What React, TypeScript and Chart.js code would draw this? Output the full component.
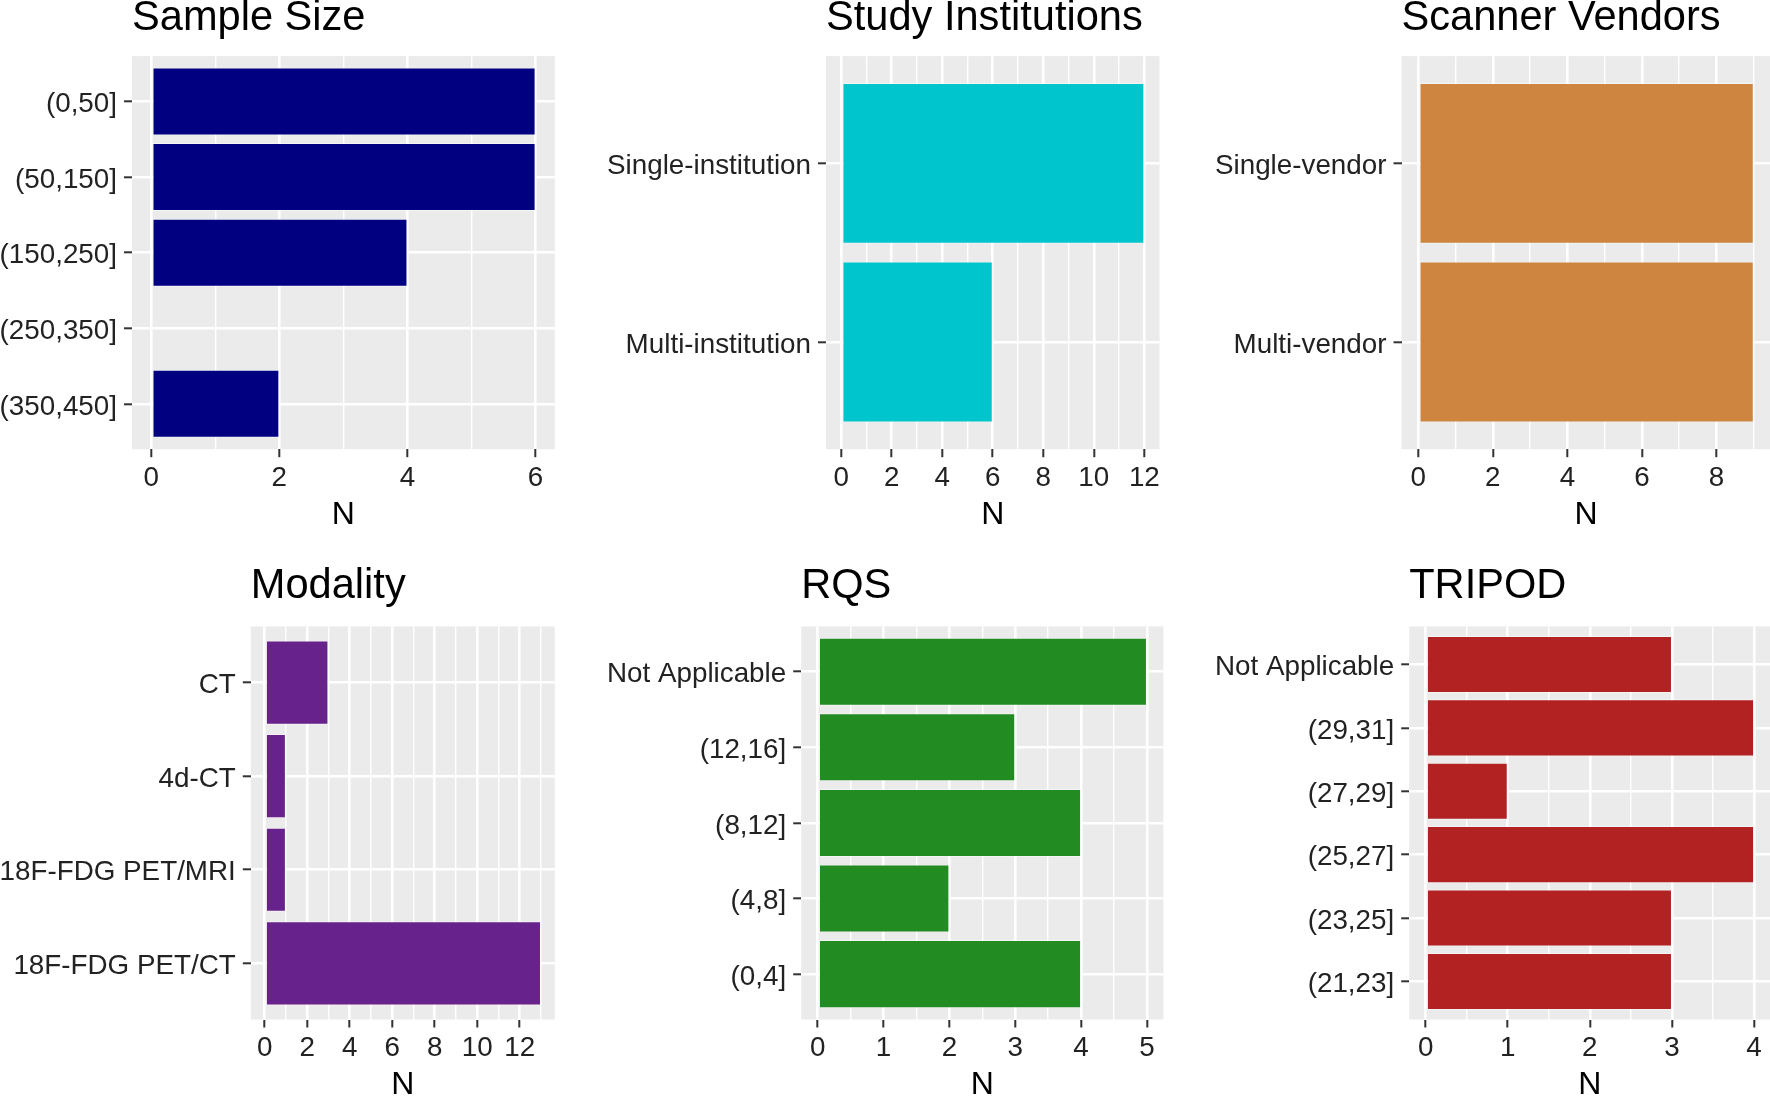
import React, { useEffect, useRef } from 'react';
import { Chart, registerables } from 'chart.js';

Chart.register(...registerables);

// ---------- data ----------
const sampleSizeLabels = ['(0,50]', '(50,150]', '(150,250]', '(250,350]', '(350,450]'];
const sampleSizeValues = [6, 6, 4, 0, 2];
const sampleSizeMajor = [0, 2, 4, 6];
const sampleSizeMinor = [1, 3, 5];

const institutionLabels = ['Single-institution', 'Multi-institution'];
const institutionValues = [12, 6];
const institutionMajor = [0, 2, 4, 6, 8, 10, 12];
const institutionMinor = [1, 3, 5, 7, 9, 11];

const vendorLabels = ['Single-vendor', 'Multi-vendor'];
const vendorValues = [9, 9];
const vendorMajor = [0, 2, 4, 6, 8];
const vendorMinor = [1, 3, 5, 7, 9];

const modalityLabels = ['CT', '4d-CT', '18F-FDG PET/MRI', '18F-FDG PET/CT'];
const modalityValues = [3, 1, 1, 13];
const modalityMajor = [0, 2, 4, 6, 8, 10, 12];
const modalityMinor = [1, 3, 5, 7, 9, 11, 13];

const rqsLabels = ['Not Applicable', '(12,16]', '(8,12]', '(4,8]', '(0,4]'];
const rqsValues = [5, 3, 4, 2, 4];
const rqsMajor = [0, 1, 2, 3, 4, 5];
const rqsMinor = [0.5, 1.5, 2.5, 3.5, 4.5];

const tripodLabels = ['Not Applicable', '(29,31]', '(27,29]', '(25,27]', '(23,25]', '(21,23]'];
const tripodValues = [3, 4, 1, 4, 3, 3];
const tripodMajor = [0, 1, 2, 3, 4];
const tripodMinor = [0.5, 1.5, 2.5, 3.5];

// ---------- layout / style ----------
const FONT = "'Liberation Sans', Arial, Helvetica, sans-serif";
const TITLE_SIZE = 41.6;
const TICK_SIZE = 27.8;
const AXIS_TITLE_SIZE = 32;

type Panel = {
  title: string;
  labels: string[];
  values: number[];
  major: number[];
  minor: number[];
  xMin: number;
  xMax: number;
  color: string;
  cl: number; ct: number; cw: number; ch: number;
  panelLeft: number; panelTop: number; panelRight: number; panelBottom: number;
  titleMid: number;
};

const TOP = { ct: -10, ch: 544, panelTop: 56.1, panelBottom: 449.2, titleMid: 18.6 };
const BOT = { ct: 555, ch: 549, panelTop: 626.4, panelBottom: 1019.5, titleMid: 587.0 };
const COL1 = { cl: 0, cw: 555, panelRight: 554.8 };
const COL2 = { cl: 585, cw: 579, panelRight: 1163.4 };
const COL3 = { cl: 1180, cw: 591, panelRight: 1770.5 };

const panels: Panel[] = [
  { title: 'Sample Size', labels: sampleSizeLabels, values: sampleSizeValues, major: sampleSizeMajor, minor: sampleSizeMinor,
    xMin: -0.3, xMax: 6.3, color: '#000080', ...TOP, ...COL1, panelLeft: 132.0 },
  { title: 'Study Institutions', labels: institutionLabels, values: institutionValues, major: institutionMajor, minor: institutionMinor,
    xMin: -0.6, xMax: 12.6, color: '#00C5CD', ...TOP, ...COL2, panelLeft: 826.0 },
  { title: 'Scanner Vendors', labels: vendorLabels, values: vendorValues, major: vendorMajor, minor: vendorMinor,
    xMin: -0.45, xMax: 9.45, color: '#CD853F', ...TOP, ...COL3, panelLeft: 1401.5 },
  { title: 'Modality', labels: modalityLabels, values: modalityValues, major: modalityMajor, minor: modalityMinor,
    xMin: -0.65, xMax: 13.65, color: '#68228B', ...BOT, ...COL1, panelLeft: 250.8 },
  { title: 'RQS', labels: rqsLabels, values: rqsValues, major: rqsMajor, minor: rqsMinor,
    xMin: -0.25, xMax: 5.25, color: '#228B22', ...BOT, ...COL2, panelLeft: 801.2 },
  { title: 'TRIPOD', labels: tripodLabels, values: tripodValues, major: tripodMajor, minor: tripodMinor,
    xMin: -0.2, xMax: 4.2, color: '#B22222', ...BOT, ...COL3, panelLeft: 1409.2 },
];

const panelBg = {
  id: 'panelBg',
  beforeDraw(chart: any) {
    const { ctx, chartArea: a } = chart;
    ctx.save();
    ctx.fillStyle = '#EBEBEB';
    ctx.fillRect(a.left, a.top, a.right - a.left, a.bottom - a.top);
    ctx.restore();
  },
};

function PanelChart({ p }: { p: Panel }) {
  const ref = useRef<HTMLCanvasElement | null>(null);
  useEffect(() => {
    if (!ref.current) return;
    const titleLH = TITLE_SIZE * 1.2;
    const pt = p.titleMid - titleLH / 2 - p.ct;
    const pb = p.panelTop - p.ct - titleLH - pt;
    const yAxisW = p.panelLeft - p.cl;
    const xAxisH = p.ct + p.ch - p.panelBottom;
    const padRight = p.cl + p.cw - p.panelRight;
    const allX = [...p.major, ...p.minor].sort((a, b) => a - b);
    const isMajor = (v: number) => p.major.includes(v);

    const chart = new Chart(ref.current, {
      type: 'bar',
      data: {
        datasets: [
          {
            data: p.values.map((v, i) => ({ x: v, y: i })),
            backgroundColor: p.color,
            borderColor: 'rgba(255,255,255,0.45)',
            borderWidth: 1,
            borderSkipped: false,
            barPercentage: 0.9,
            categoryPercentage: 1,
          } as any,
        ],
      },
      options: {
        indexAxis: 'y',
        responsive: false,
        animation: false,
        layout: { padding: { left: 0, right: padRight, top: 0, bottom: 0 } },
        plugins: {
          legend: { display: false },
          tooltip: { enabled: false },
          title: {
            display: true,
            text: p.title,
            align: 'start',
            fullSize: false,
            color: '#000000',
            font: { family: FONT, size: TITLE_SIZE, weight: 'normal', lineHeight: 1.2 },
            padding: { top: pt, bottom: pb },
          },
        },
        scales: {
          x: {
            type: 'linear',
            position: 'bottom',
            offset: false,
            min: p.xMin,
            max: p.xMax,
            afterBuildTicks: (s: any) => {
              s.ticks = allX.map((v) => ({ value: v }));
            },
            afterFit: (s: any) => {
              s.height = xAxisH;
            },
            ticks: {
              autoSkip: false,
              maxRotation: 0,
              minRotation: 0,
              padding: 4,
              color: '#222222',
              font: { family: FONT, size: TICK_SIZE, lineHeight: 1.2 },
              callback: (v: any) => (isMajor(Number(v)) ? String(v) : ''),
            },
            grid: {
              offset: false,
              color: '#FFFFFF',
              lineWidth: (c: any) => (c.tick && isMajor(c.tick.value) ? 2.6 : 1.4),
              tickColor: (c: any) => (c.tick && isMajor(c.tick.value) ? '#333333' : 'rgba(0,0,0,0)'),
              tickLength: 8,
              tickWidth: 2,
              drawTicks: true,
            },
            border: { display: false },
            title: {
              display: true,
              text: 'N',
              color: '#000000',
              font: { family: FONT, size: AXIS_TITLE_SIZE, lineHeight: 1.2 },
              padding: 0,
            },
          },
          y: {
            type: 'linear',
            reverse: true,
            offset: false,
            min: -0.6,
            max: p.labels.length - 1 + 0.6,
            afterBuildTicks: (s: any) => {
              s.ticks = p.labels.map((_, i) => ({ value: i }));
            },
            afterFit: (s: any) => {
              s.width = yAxisW;
            },
            ticks: {
              autoSkip: false,
              padding: 7,
              labelOffset: 3,
              color: '#222222',
              font: { family: FONT, size: TICK_SIZE, lineHeight: 1.2 },
              callback: (v: any) => p.labels[Number(v)] ?? '',
            },
            grid: {
              offset: false,
              color: '#FFFFFF',
              lineWidth: 2.6,
              tickColor: '#333333',
              tickLength: 8,
              tickWidth: 2,
              drawTicks: true,
            },
            border: { display: false },
          },
        },
      } as any,
      plugins: [panelBg],
    });
    return () => chart.destroy();
  }, [p]);

  return (
    <canvas
      ref={ref}
      width={p.cw}
      height={p.ch}
      style={{ position: 'absolute', left: p.cl, top: p.ct, width: p.cw, height: p.ch }}
    />
  );
}

export default function App() {
  return (
    <div
      style={{
        position: 'absolute',
        left: 0,
        top: 0,
        width: 1770,
        height: 1097,
        overflow: 'hidden',
        background: '#FFFFFF',
      }}
    >
      {panels.map((p) => (
        <PanelChart key={p.title} p={p} />
      ))}
    </div>
  );
}
